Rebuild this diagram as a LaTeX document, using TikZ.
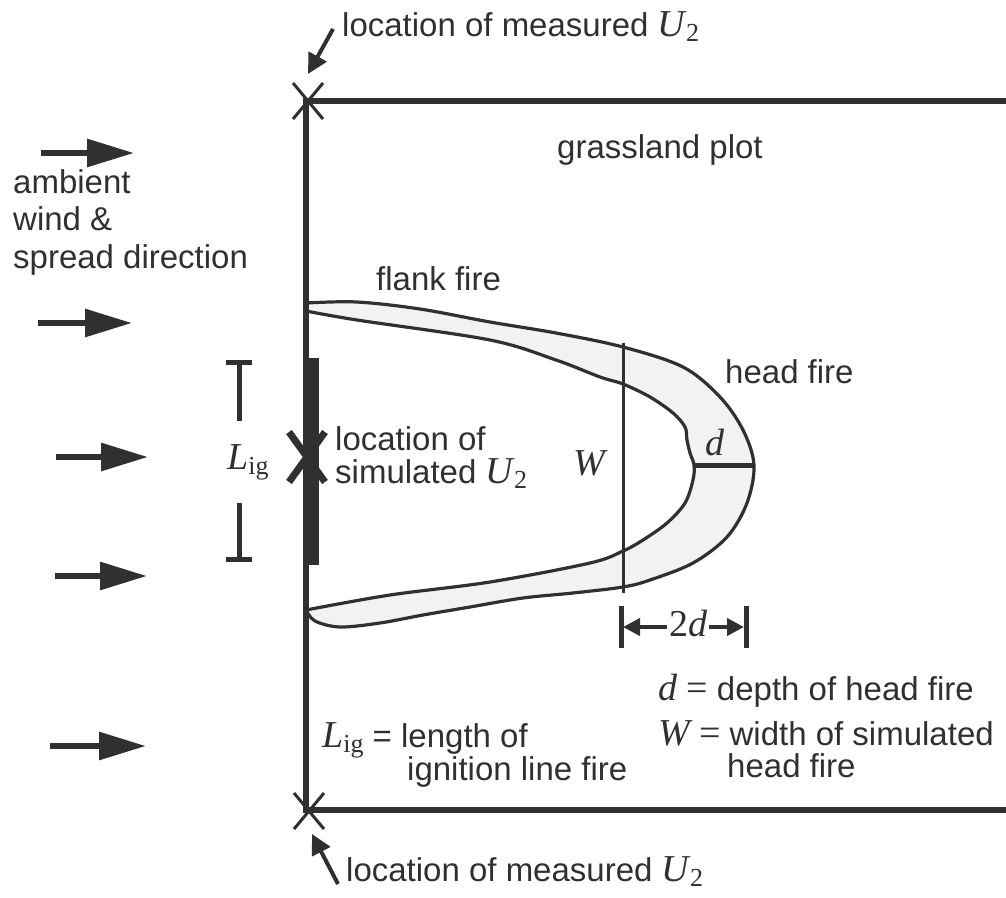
\documentclass[tikz,border=0pt]{standalone}
\usepackage{fontspec}
\setmainfont{Liberation Sans}
\newfontfamily\tim{Liberation Serif}
\usetikzlibrary{positioning,arrows.meta}

\definecolor{tinta}{HTML}{303030}
\definecolor{fogo}{HTML}{F3F2F0}
\newcommand{\mi}[1]{{\fontsize{38}{38}\selectfont\tim\itshape #1}}
\newcommand{\sub}[1]{\raisebox{-0.3ex}{\fontsize{26}{26}\selectfont\tim #1}}
\newcommand{\Udois}{\mi{U}\kern1pt\sub{2}}
\newcommand{\Lig}{\mi{L}\sub{ig}}
\newcommand{\igual}{{\fontsize{38}{38}\selectfont\tim =}}

\begin{document}
\begin{tikzpicture}[
  x=1pt, y=-1pt,
  every node/.style={text=tinta, font=\fontsize{33}{37.5}\selectfont, inner sep=0pt},
  texto/.style={anchor=base west, align=left},
  borda/.style={draw=tinta, line width=5.5pt},
  marca/.style={draw=tinta, line width=3pt},
  vento/.style={draw=tinta, line width=6pt, -{Triangle[length=47pt,width=27pt]}},
  ponteiro/.style={draw=tinta, line width=4pt, -{Triangle[length=20pt,width=20pt]}},
  cota/.style={draw=tinta, line width=4pt, -{Triangle[length=17pt,width=17pt]}},
  chama/.style={draw=tinta, fill=fogo, line width=3.2pt, line join=round},
  barra/.style={draw=tinta, line width=5pt}
]
\useasboundingbox (0,0) rectangle (1006,897);

% plot boundary
\coordinate (tl) at (306,101);
\coordinate (bl) at (306,810);
\coordinate (tr) at (1010,101);
\coordinate (br) at (1010,810);

% fire shape
\filldraw[chama] plot[smooth, tension=0.55] coordinates {
  (306,303) (357,302) (420,309) (490,322) (556,333) (623,347) (683,367)
  (720,397) (743,430) (754,465) (747,503) (727,537) (693,563) (650,580)
  (623,587) (573,593) (523,598) (470,607) (423,615) (380,623) (340,627)
  (315,621) (306,610)}
  -- plot[smooth, tension=0.55] coordinates {
  (306,610) (390,595) (490,582) (590,563) (623,551) (643,540) (667,523)
  (685,503) (693,480) (694,465) (690,453) (687,440) (685,427) (673,413)
  (650,397) (623,384) (600,377) (556,360) (490,340) (357,320) (306,311)}
  -- cycle;

\draw[borda] (tr) -- (tl) -- (bl) -- (br);

% measured U2 marks
\draw[marca] (293,83) -- (323,119) (323,83) -- (293,119);
\draw[marca] (294,793) -- (324,829) (324,793) -- (294,829);

% ignition line and simulated U2
\fill[tinta] (303,358) rectangle (319,565);
\draw[draw=tinta, line width=7pt] (289,432) -- (325,482) (325,432) -- (289,482);

% W and d
\coordinate (wtop) at (623,343);
\coordinate (wbot) at (623,593);
\coordinate (dint) at (694,465);
\coordinate (dext) at (754,465);
\draw[marca] (wtop) -- (wbot);
\draw[barra] (dint) -- (dext);

% labels
\node[texto] (u2top) at (342,36) {location of measured \Udois};
\node[texto] (u2bot) at (346,881) {location of measured \Udois};
\coordinate (ptop) at (333,29);
\coordinate (xtop) at (308,74);
\coordinate (pbot) at (338,884);
\coordinate (xbot) at (312,834);
\draw[ponteiro] (ptop) -- (xtop);
\draw[ponteiro] (pbot) -- (xbot);

\node[texto] (plot) at (557,158) {grassland plot};
\node[texto] (flank) at (376,290) {flank fire};
\node[texto] (head) at (725,383) {head fire};
\node[texto] (amb) at (13,268) {ambient\\wind \&\\spread direction};
\node[texto] (sim) at (335,483) {location of\\[-5pt]simulated \Udois};
\node (w) at (589,463) {\mi{W}};
\node (d) at (715,443) {\mi{d}};
\node (lig) at (248,462) {\Lig};

% wind arrows
\draw[vento] (41,153) -- (134,153);
\draw[vento] (38,323) -- (132,323);
\draw[vento] (56,457) -- (148,457);
\draw[vento] (55,576) -- (147,576);
\draw[vento] (50,746) -- (146,746);

% L_ig bracket
\draw[barra] (226,362) -- (252,362) (239,362) -- (239,421);
\draw[barra] (239,503) -- (239,559) (226,559) -- (252,559);

% 2d dimension
\node (dd) at (688,624) {\mi{\upshape 2}\mi{d}};
\draw[barra] (621,606) -- (621,648) (746,606) -- (746,648);
\draw[cota] (dd.west) ++(-2,3) -- (623,627);
\draw[cota] (dd.east) ++(2,3) -- (744,627);

% legend
\node[texto] (ld) at (658,700) {\mi{d} \igual\ depth of head fire};
\node[texto] (lw) at (658,745) {\mi{W} \igual\ width of simulated};
\node[texto] (lw2) at (727,777) {head fire};
\node[texto] (ll) at (322,747) {\Lig\ = length of};
\node[texto] (ll2) at (407,780) {ignition line fire};
\end{tikzpicture}
\end{document}
